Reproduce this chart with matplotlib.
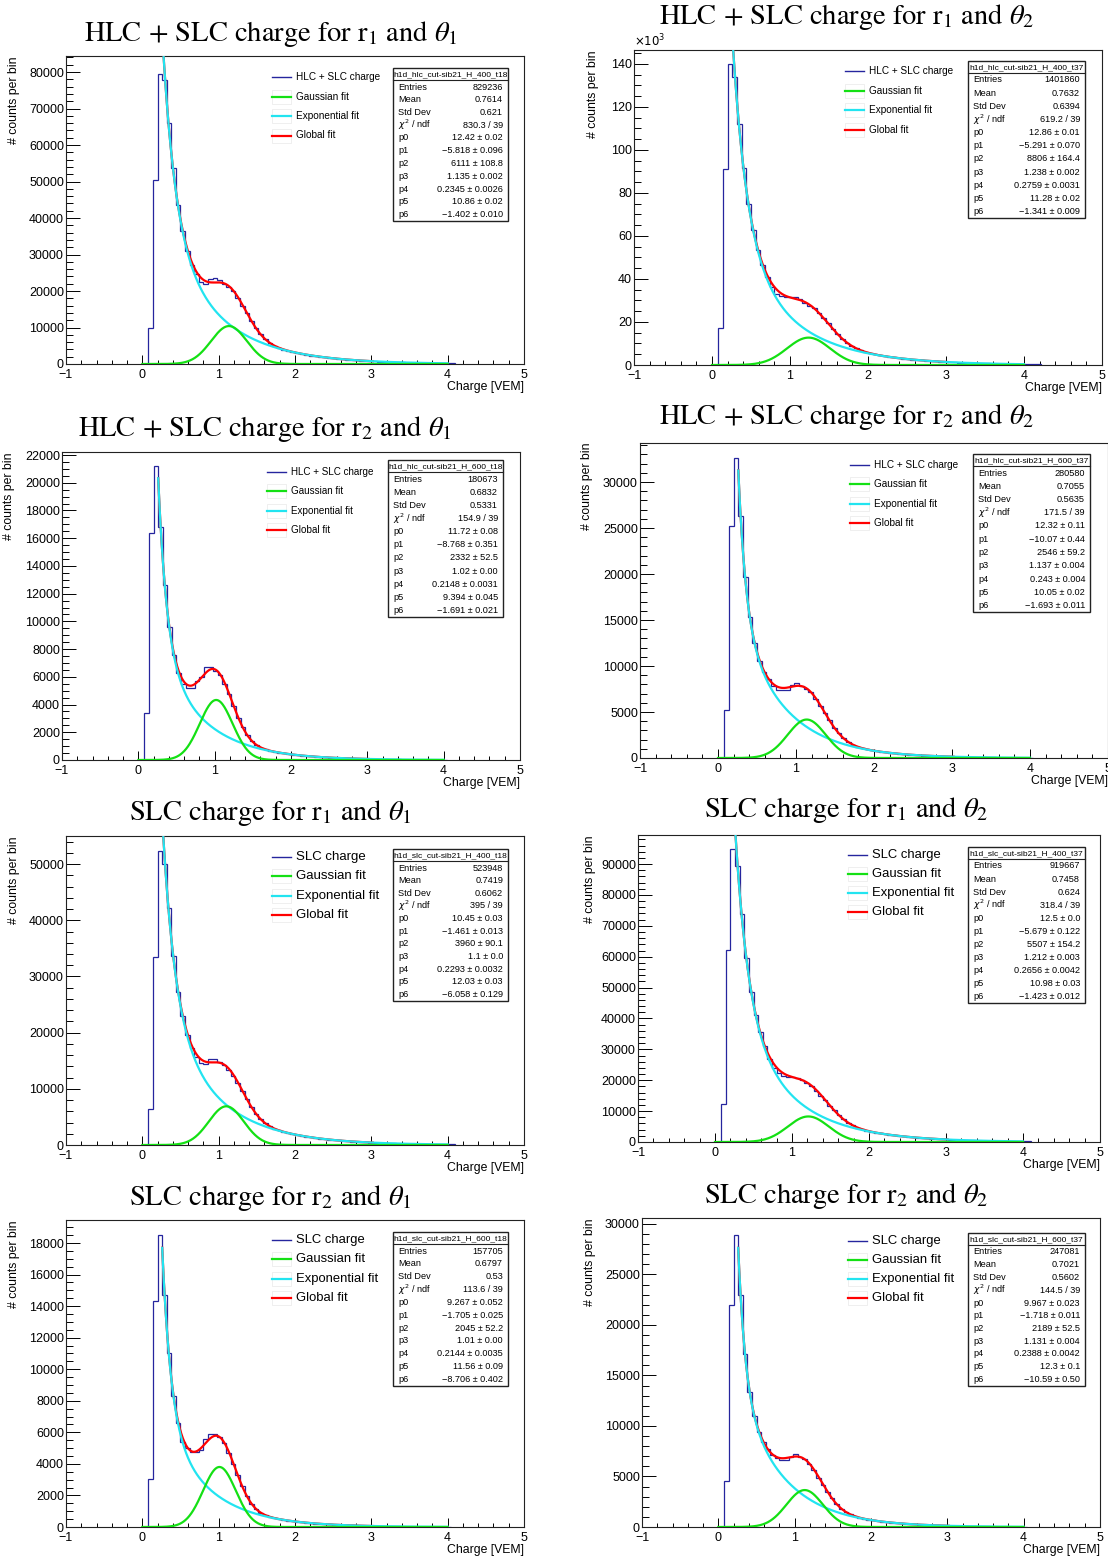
import numpy as np
import matplotlib
matplotlib.use("Agg")
import matplotlib.pyplot as plt
from matplotlib.patches import Rectangle
from matplotlib.lines import Line2D
from matplotlib.ticker import MultipleLocator, FuncFormatter

W, H = 1108, 1558
DPI = 100

plt.rcParams['font.family'] = ['Liberation Sans', 'DejaVu Sans']
plt.rcParams['mathtext.fontset'] = 'stix'
plt.rcParams['axes.unicode_minus'] = True

# common binning of the charge histograms (first filled bin starts at 0.08 VEM)
BIN_WIDTH = 0.06
FIRST_EDGE = 0.08

# ---------------------------------------------------------------- data
counts_hlc_r1_t1 = [9800, 50500, 79500, 77800, 66000, 53700, 43700, 36500, 31000, 27000, 24700,
                    22400, 22000, 23200, 23500, 23000, 22000, 21200, 20100, 18200, 16000, 13900,
                    11700, 9800, 8100, 6800, 5800, 5000, 4400, 3950, 3600, 3250, 3000, 2750, 2530,
                    2320, 2130, 1960, 1800, 1660, 1520, 1400, 1290, 1180, 1090, 1000, 915, 840, 775,
                    710, 650, 600, 550, 505, 465, 430, 395, 360, 330, 305, 280, 260, 235, 220, 200,
                    185, 170]
counts_hlc_r1_t2 = [17000, 91000, 140000, 134000, 112000, 91500, 75000, 63000, 53500, 46500, 41000,
                    36500, 33000, 32200, 31800, 31500, 31500, 30800, 29000, 27500, 26300, 24000,
                    21800, 19400, 16900, 14400, 12300, 10400, 8950, 7750, 6800, 6000, 5400, 4900,
                    4490, 4120, 3770, 3490, 3210, 2960, 2730, 2520, 2330, 2150, 1980, 1830, 1690,
                    1560, 1440, 1330, 1225, 1130, 1040, 960, 890, 820, 760, 700, 645, 595, 550, 505,
                    465, 430, 400, 365, 340, 310, 285]
counts_hlc_r2_t1 = [3400, 16400, 21200, 16800, 12600, 9600, 7600, 6300, 5500, 5200, 5200, 5700, 6000,
                    6700, 6700, 6450, 6100, 5500, 4750, 3900, 3050, 2350, 1780, 1370, 1080, 890, 760,
                    660, 580, 525, 475, 430, 390, 350, 315, 285, 260, 235, 210, 190, 170, 155, 140,
                    125, 115, 105, 95, 85, 77, 70, 63, 57, 52, 47, 42, 38, 34, 31, 28, 25, 23, 21,
                    19, 17, 15, 14]
counts_hlc_r2_t2 = [5200, 25200, 32600, 26300, 19700, 15300, 12500, 10500, 9300, 8600, 7800, 7400,
                    7400, 7400, 7900, 8100, 7800, 7500, 7200, 6400, 5700, 4900, 4100, 3300, 2700,
                    2150, 1750, 1450, 1230, 1070, 940, 825, 745, 673, 608, 548, 496, 448, 405, 366,
                    330, 299, 269, 244, 220, 198, 180, 163, 147, 133, 120, 108, 98, 88, 80, 72, 65,
                    59, 53, 48, 43, 39, 35, 32, 29, 26]
counts_slc_r1_t1 = [6400, 33500, 52300, 50000, 42200, 33700, 27200, 23000, 19500, 17200, 15700,
                    14600, 14500, 15300, 15300, 14700, 14200, 13400, 12300, 11000, 9600, 8150, 6750,
                    5560, 4610, 3870, 3330, 2920, 2600, 2350, 2140, 1945, 1780, 1630, 1500, 1370,
                    1255, 1150, 1055, 965, 885, 810, 740, 680, 620, 570, 520, 480, 440, 400, 370,
                    340, 310, 285, 260, 240, 220, 200, 185, 170, 155, 140, 130, 120, 110, 100, 90]
counts_slc_r1_t2 = [12200, 62300, 94800, 89500, 73700, 59700, 48700, 41000, 35500, 31000, 27000,
                    24000, 22200, 21500, 21200, 21000, 20700, 20000, 19000, 18000, 16600, 15000,
                    13500, 11800, 10200, 8700, 7350, 6250, 5380, 4680, 4130, 3700, 3340, 3030, 2770,
                    2530, 2320, 2130, 1960, 1800, 1650, 1515, 1390, 1280, 1170, 1075, 985, 905, 830,
                    762, 700, 643, 590, 542, 497, 457, 419, 385, 353, 324, 298, 273, 251, 230, 211,
                    194, 178]
counts_slc_r2_t1 = [3050, 14300, 18500, 14700, 11000, 8300, 6600, 5400, 5000, 4750, 4750, 4850, 5600,
                    5900, 5900, 5700, 5300, 4700, 4000, 3300, 2600, 1950, 1480, 1150, 910, 756, 647,
                    568, 500, 452, 408, 368, 332, 300, 270, 245, 221, 199, 180, 162, 147, 132, 119,
                    108, 97, 88, 79, 72, 65, 58, 53, 48, 43, 39, 35, 31, 28, 26, 23, 21, 19, 17, 15,
                    14, 12, 11]
counts_slc_r2_t2 = [4600, 22000, 28900, 23000, 17100, 13400, 11000, 9400, 8400, 7700, 7100, 6800,
                    6600, 6600, 6900, 7200, 6900, 6700, 6200, 5600, 4900, 4200, 3500, 2830, 2270,
                    1830, 1500, 1250, 1065, 927, 820, 731, 651, 588, 531, 479, 431, 390, 351, 317,
                    286, 258, 233, 210, 189, 171, 154, 139, 126, 114, 103, 93, 84, 75, 68, 61, 55,
                    50, 45, 40, 36, 33, 30, 27, 24, 22]

# statistics box: histogram name, entries, mean, std dev, chi2/ndf
stats_hlc_r1_t1 = ["h1d_hlc_cut-sib21_H_400_t18", "829236", "0.7614", "0.621", "830.3 / 39"]
stats_hlc_r1_t2 = ["h1d_hlc_cut-sib21_H_400_t37", "1401860", "0.7632", "0.6394", "619.2 / 39"]
stats_hlc_r2_t1 = ["h1d_hlc_cut-sib21_H_600_t18", "180673", "0.6832", "0.5331", "154.9 / 39"]
stats_hlc_r2_t2 = ["h1d_hlc_cut-sib21_H_600_t37", "280580", "0.7055", "0.5635", "171.5 / 39"]
stats_slc_r1_t1 = ["h1d_slc_cut-sib21_H_400_t18", "523948", "0.7419", "0.6062", "395 / 39"]
stats_slc_r1_t2 = ["h1d_slc_cut-sib21_H_400_t37", "919667", "0.7458", "0.624", "318.4 / 39"]
stats_slc_r2_t1 = ["h1d_slc_cut-sib21_H_600_t18", "157705", "0.6797", "0.53", "113.6 / 39"]
stats_slc_r2_t2 = ["h1d_slc_cut-sib21_H_600_t37", "247081", "0.7021", "0.5602", "144.5 / 39"]

# global fit parameters p0..p6 (value ± error)
params_hlc_r1_t1 = ["12.42 ± 0.02", "−5.818 ± 0.096", "6111 ± 108.8", "1.135 ± 0.002",
                    "0.2345 ± 0.0026", "10.86 ± 0.02", "−1.402 ± 0.010"]
params_hlc_r1_t2 = ["12.86 ± 0.01", "−5.291 ± 0.070", "8806 ± 164.4", "1.238 ± 0.002",
                    "0.2759 ± 0.0031", "11.28 ± 0.02", "−1.341 ± 0.009"]
params_hlc_r2_t1 = ["11.72 ± 0.08", "−8.768 ± 0.351", "2332 ± 52.5", "1.02 ± 0.00",
                    "0.2148 ± 0.0031", "9.394 ± 0.045", "−1.691 ± 0.021"]
params_hlc_r2_t2 = ["12.32 ± 0.11", "−10.07 ± 0.44", "2546 ± 59.2", "1.137 ± 0.004",
                    "0.243 ± 0.004", "10.05 ± 0.02", "−1.693 ± 0.011"]
params_slc_r1_t1 = ["10.45 ± 0.03", "−1.461 ± 0.013", "3960 ± 90.1", "1.1 ± 0.0",
                    "0.2293 ± 0.0032", "12.03 ± 0.03", "−6.058 ± 0.129"]
params_slc_r1_t2 = ["12.5 ± 0.0", "−5.679 ± 0.122", "5507 ± 154.2", "1.212 ± 0.003",
                    "0.2656 ± 0.0042", "10.98 ± 0.03", "−1.423 ± 0.012"]
params_slc_r2_t1 = ["9.267 ± 0.052", "−1.705 ± 0.025", "2045 ± 52.2", "1.01 ± 0.00",
                    "0.2144 ± 0.0035", "11.56 ± 0.09", "−8.706 ± 0.402"]
params_slc_r2_t2 = ["9.967 ± 0.023", "−1.718 ± 0.011", "2189 ± 52.5", "1.131 ± 0.004",
                    "0.2388 ± 0.0042", "12.3 ± 0.1", "−10.59 ± 0.50"]

titles = [r"HLC + SLC charge for r$_1$ and $\theta_1$", r"HLC + SLC charge for r$_1$ and $\theta_2$",
          r"HLC + SLC charge for r$_2$ and $\theta_1$", r"HLC + SLC charge for r$_2$ and $\theta_2$",
          r"SLC charge for r$_1$ and $\theta_1$", r"SLC charge for r$_1$ and $\theta_2$",
          r"SLC charge for r$_2$ and $\theta_1$", r"SLC charge for r$_2$ and $\theta_2$"]
hist_labels = ["HLC + SLC charge"] * 4 + ["SLC charge"] * 4
fit_labels = ["Gaussian fit", "Exponential fit", "Global fit"]

# ---------------------------------------------------------------- styling
HIST_COLOR = "#25259e"
RED = "#ff0000"
CYAN = "#22e4f0"
GREEN = "#14e014"

# page layout, pixels: axes box (left, top, right, bottom), y max, y major/minor,
# title anchor, y-label x, legend anchor, legend step, legend font, stats box
layout = [
    dict(box=(66, 56, 524, 364), ytop=84400, ymaj=10000, ymin=2000, tpos=(271, 41), ylx=14,
         leg=(272, 77), lstep=19.5, lfs=7.2, sbox=(393, 68, 508, 221), k=False),
    dict(box=(634, 50, 1102, 365), ytop=146500, ymaj=20000, ymin=5000, tpos=(847, 24), ylx=593,
         leg=(845, 71), lstep=19.6, lfs=7.2, sbox=(968, 61, 1085, 218), k=True),
    dict(box=(62, 452, 520, 760), ytop=22220, ymaj=2000, ymin=500, tpos=(265, 436), ylx=9,
         leg=(267, 472), lstep=19.4, lfs=7.1, sbox=(388, 460, 503, 617), k=False),
    dict(box=(640, 443, 1108, 758), ytop=34240, ymaj=5000, ymin=1000, tpos=(847, 424), ylx=587,
         leg=(850, 465), lstep=19.4, lfs=7.2, sbox=(973, 454, 1090, 612), k=False),
    dict(box=(66, 836, 524, 1145), ytop=55000, ymaj=10000, ymin=2000, tpos=(270, 820), ylx=14,
         leg=(272, 857), lstep=19.4, lfs=9.5, sbox=(393, 849, 508, 1001), k=False),
    dict(box=(638, 835, 1100, 1142), ytop=99400, ymaj=10000, ymin=2000, tpos=(846, 817), ylx=590,
         leg=(848, 855), lstep=19.1, lfs=9.4, sbox=(968, 847, 1085, 1003), k=False),
    dict(box=(66, 1220, 524, 1527), ytop=19460, ymaj=2000, ymin=500, tpos=(270, 1205), ylx=14,
         leg=(272, 1240), lstep=19.4, lfs=9.4, sbox=(393, 1232, 508, 1386), k=False),
    dict(box=(642, 1218, 1100, 1527), ytop=30590, ymaj=5000, ymin=1000, tpos=(846, 1203), ylx=590,
         leg=(848, 1241), lstep=19.1, lfs=9.4, sbox=(968, 1233, 1085, 1386), k=False),
]

all_counts = [counts_hlc_r1_t1, counts_hlc_r1_t2, counts_hlc_r2_t1, counts_hlc_r2_t2,
              counts_slc_r1_t1, counts_slc_r1_t2, counts_slc_r2_t1, counts_slc_r2_t2]
all_stats = [stats_hlc_r1_t1, stats_hlc_r1_t2, stats_hlc_r2_t1, stats_hlc_r2_t2,
             stats_slc_r1_t1, stats_slc_r1_t2, stats_slc_r2_t1, stats_slc_r2_t2]
all_params = [params_hlc_r1_t1, params_hlc_r1_t2, params_hlc_r2_t1, params_hlc_r2_t2,
              params_slc_r1_t1, params_slc_r1_t2, params_slc_r2_t1, params_slc_r2_t2]


def fx(x):
    return x / W


def fy(y):
    return 1 - y / H


def value_of(s):
    return float(s.split("±")[0].strip().replace("−", "-"))


def expo_part(x, p):
    return np.exp(p[0] + p[1] * x) + np.exp(p[5] + p[6] * x)


def gaus_part(x, p):
    return p[2] / (np.sqrt(2 * np.pi) * p[4]) * np.exp(-0.5 * ((x - p[3]) / p[4]) ** 2)


fig = plt.figure(figsize=(W / DPI, H / DPI), dpi=DPI)
fig.patch.set_facecolor("white")

for i in range(8):
    L = layout[i]
    l, t, r, b = L["box"]
    ax = fig.add_axes([fx(l), fy(b), (r - l) / W, (b - t) / H])
    counts = np.array(all_counts[i], dtype=float)
    edges = FIRST_EDGE + BIN_WIDTH * np.arange(len(counts) + 1)
    p = [value_of(s) for s in all_params[i]]

    ax.stairs(counts, edges, baseline=0, fill=False, color=HIST_COLOR, lw=0.9, zorder=2)

    xr = np.linspace(0.26, 3.02, 400)
    ax.plot(xr, expo_part(xr, p) + gaus_part(xr, p), color=RED, lw=1.6, zorder=3)
    xc = np.linspace(0.26, 4.0, 500)
    ax.plot(xc, expo_part(xc, p), color=CYAN, lw=1.6, zorder=4)
    xg = np.linspace(0.0, 4.0, 500)
    ax.plot(xg, gaus_part(xg, p), color=GREEN, lw=1.6, zorder=5)

    ax.set_xlim(-1, 5)
    ax.set_ylim(0, L["ytop"])
    ax.xaxis.set_major_locator(MultipleLocator(1))
    ax.xaxis.set_minor_locator(MultipleLocator(0.2))
    ax.yaxis.set_major_locator(MultipleLocator(L["ymaj"]))
    ax.yaxis.set_minor_locator(MultipleLocator(L["ymin"]))
    if L["k"]:
        ax.yaxis.set_major_formatter(FuncFormatter(lambda v, _: f"{v / 1000:.0f}"))
    else:
        ax.yaxis.set_major_formatter(FuncFormatter(lambda v, _: f"{v:.0f}"))
    ax.tick_params(axis="x", which="major", direction="in", length=6.3, width=0.7, pad=3.6,
                   labelsize=9)
    ax.tick_params(axis="x", which="minor", direction="in", length=3.2, width=0.7)
    ax.tick_params(axis="y", which="major", direction="in", length=10.3, width=0.7, pad=1.5,
                   labelsize=9)
    ax.tick_params(axis="y", which="minor", direction="in", length=5.2, width=0.7)
    for sp in ax.spines.values():
        sp.set_linewidth(0.8)
        sp.set_color("#222222")

    # titles and axis labels
    fig.text(fx(L["tpos"][0]), fy(L["tpos"][1]), titles[i], ha="center", va="baseline",
             fontsize=20.5, family="STIXGeneral")
    fig.text(fx(L["ylx"]), fy(t), "# counts per bin", rotation=90, ha="center", va="top",
             fontsize=8.8)
    fig.text(fx(r), fy(b + 23), "Charge [VEM]", ha="right", va="center", fontsize=8.8)
    if L["k"]:
        fig.text(fx(l), fy(t - 4), r"$\times10^{3}$", ha="left", va="baseline", fontsize=8.5,
                 math_fontfamily="dejavusans")

    # legend
    lx, ly = L["leg"]
    entries = [(HIST_COLOR, 1.0, hist_labels[i]), (GREEN, 1.6, fit_labels[0]),
               (CYAN, 1.6, fit_labels[1]), (RED, 1.6, fit_labels[2])]
    for k, (c, lw, txt) in enumerate(entries):
        yy = ly + k * L["lstep"]
        if k > 0:
            fig.add_artist(Rectangle((fx(lx), fy(yy + 7)), 19 / W, 14 / H, transform=fig.transFigure,
                                     fill=False, edgecolor="#ececec", lw=0.6))
        fig.add_artist(Line2D([fx(lx), fx(lx + 19)], [fy(yy), fy(yy)], color=c, lw=lw,
                              transform=fig.transFigure))
        fig.text(fx(lx + 24), fy(yy), txt, ha="left", va="center", fontsize=L["lfs"])

    # statistics box
    x0, y0, x1, y1 = L["sbox"]
    st = all_stats[i]
    fig.add_artist(Rectangle((fx(x0), fy(y1)), (x1 - x0) / W, (y1 - y0) / H,
                             transform=fig.transFigure, facecolor="white", edgecolor="#222222",
                             lw=1.0, zorder=10))
    fig.add_artist(Line2D([fx(x0), fx(x1)], [fy(y0 + 12), fy(y0 + 12)], color="#222222", lw=0.8,
                          transform=fig.transFigure, zorder=11))
    fig.text(fx((x0 + x1) / 2), fy(y0 + 6.3), st[0], ha="center", va="center", fontsize=6.0,
             zorder=12)
    names = ["Entries", "Mean", "Std Dev", r"$\chi^{2}$ / ndf"] + [f"p{n}" for n in range(7)]
    values = st[1:] + all_params[i]
    ya, yb = y0 + 19, y1 - 6.5
    for k in range(11):
        yy = ya + k * (yb - ya) / 10
        fig.text(fx(x0 + 5), fy(yy), names[k], ha="left", va="center", fontsize=6.6,
                 math_fontfamily="dejavusans", zorder=12)
        fig.text(fx(x1 - 5), fy(yy), values[k], ha="right", va="center", fontsize=6.6, zorder=12)

fig.savefig("out.png", dpi=DPI, facecolor="white")
